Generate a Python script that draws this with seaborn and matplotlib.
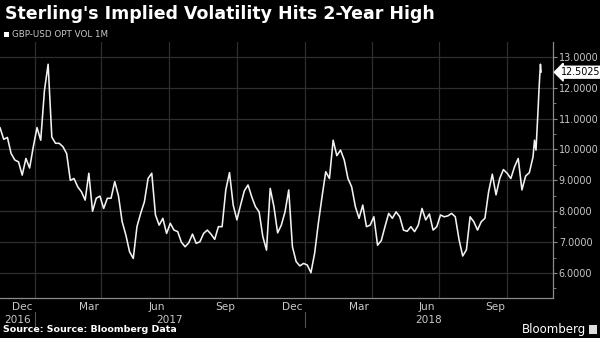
import matplotlib
matplotlib.use("Agg")
import matplotlib.pyplot as plt
import matplotlib.dates as mdates
import matplotlib.transforms as mtransforms
from matplotlib.patches import Rectangle
from matplotlib.ticker import MultipleLocator, FuncFormatter
import seaborn as sns
import pandas as pd

# ---- data -------------------------------------------------------------
series_name = "GBP-USD OPT VOL 1M"
regular_dates = pd.date_range("2016-11-15", "2018-11-05", freq="5D")
regular_vals = [
    10.71, 10.33, 10.39, 9.87, 9.66, 9.60, 9.17, 9.71, 9.40, 10.09,
    10.71, 10.30, 11.90, 12.76, 10.40, 10.20, 10.20, 10.09, 9.87, 9.00,
    9.06, 8.79, 8.63, 8.36, 9.23, 8.00, 8.42, 8.49, 8.09, 8.42,
    8.42, 8.96, 8.50, 7.66, 7.23, 6.69, 6.47, 7.50, 7.93, 8.30,
    9.06, 9.23, 7.88, 7.55, 7.77, 7.28, 7.61, 7.39, 7.34, 7.00,
    6.85, 6.98, 7.26, 6.96, 7.01, 7.28, 7.39, 7.26, 7.09, 7.50,
    7.50, 8.69, 9.25, 8.20, 7.72, 8.20, 8.66, 8.85, 8.47, 8.15,
    7.98, 7.18, 6.74, 8.74, 8.15, 7.30, 7.55, 7.98, 8.69, 6.85,
    6.37, 6.23, 6.31, 6.26, 6.01, 6.64, 7.61, 8.47, 9.28, 9.06,
    10.30, 9.80, 9.98, 9.66, 9.06, 8.79, 8.15, 7.77, 8.20, 7.50,
    7.55, 7.82, 6.90, 7.05, 7.50, 7.93, 7.77, 7.98, 7.82, 7.39,
    7.35, 7.50, 7.34, 7.55, 8.09, 7.72, 7.91, 7.39, 7.50, 7.88,
    7.82, 7.85, 7.93, 7.82, 7.09, 6.55, 6.75, 7.82, 7.66, 7.39,
    7.66, 7.77, 8.63, 9.20, 8.53, 9.06, 9.35, 9.23, 9.06, 9.44,
    9.71, 8.69, 9.14, 9.25, 9.76,
]
tail_dates = ["2018-11-07", "2018-11-09", "2018-11-12", "2018-11-13",
              "2018-11-14", "2018-11-15", "2018-11-16"]
tail_vals = [10.30, 9.98, 11.38, 11.92, 12.35, 12.76, 12.5025]
last_value = 12.5025

y_ticks = [6, 7, 8, 9, 10, 11, 12, 13]
month_labels = ["Dec", "Mar", "Jun", "Sep", "Dec", "Mar", "Jun", "Sep"]
month_label_dates = ["2016-12-15", "2017-03-15", "2017-06-15", "2017-09-15",
                     "2017-12-15", "2018-03-15", "2018-06-15", "2018-09-15"]
year_labels = ["2016", "2017", "2018"]

title = "Sterling's Implied Volatility Hits 2-Year High"
source = "Source: Source: Bloomberg Data"

df = pd.DataFrame({
    "date": list(regular_dates) + list(pd.to_datetime(tail_dates)),
    "vol": regular_vals + tail_vals,
})

# ---- style ------------------------------------------------------------
sns.set_theme(style="dark")
plt.rcParams["font.family"] = ["DejaVu Sans"]
BG = "#000000"
GRID = "#2e2e2e"
AXC = "#8a8a8a"
TXT = "#c8c8c8"

fig = plt.figure(figsize=(6.0, 3.38), dpi=100, facecolor=BG)
ax = fig.add_axes([0.0, 0.1183, 0.9217, 0.7574])
ax.set_facecolor(BG)

sns.lineplot(data=df, x="date", y="vol", ax=ax, color="#f2f2f2",
             linewidth=1.15, legend=False)

x0 = pd.Timestamp("2016-11-15")
x1 = pd.Timestamp("2018-12-02")
ax.set_xlim(x0, x1)
ax.set_ylim(5.19, 13.48)

# grid
ax.set_yticks(y_ticks)
ax.yaxis.set_minor_locator(MultipleLocator(0.5))
ax.xaxis.set_major_locator(mdates.MonthLocator())
ax.grid(False)
for yv in y_ticks:
    ax.axhline(yv, color=GRID, lw=0.9, zorder=0)
for q in pd.date_range("2017-01-01", "2018-10-01", freq="QS"):
    ax.axvline(q, color=GRID, lw=0.9, zorder=0)

# spines
for s in ["top", "left"]:
    ax.spines[s].set_visible(False)
for s in ["right", "bottom"]:
    ax.spines[s].set_visible(True)
    ax.spines[s].set_color(AXC)
    ax.spines[s].set_linewidth(0.9)

# y axis on right
ax.yaxis.tick_right()
ax.yaxis.set_major_formatter(FuncFormatter(lambda v, p: f"{v:.4f}"))
ax.tick_params(axis="y", which="major", direction="out", length=3, width=0.8,
               color=AXC, labelcolor=TXT, labelsize=6.9, pad=1.2)
ax.tick_params(axis="y", which="minor", direction="out", length=2, width=0.6,
               color=AXC)
ax.set_ylabel("")
ax.set_xlabel("")

# x axis: month tick marks, labels at mid-months
ax.tick_params(axis="x", which="major", direction="in", length=3, width=0.6,
               color=AXC, labelbottom=False)
trans = mtransforms.blended_transform_factory(ax.transData, fig.transFigure)
for lab, d in zip(month_labels, month_label_dates):
    ax.text(pd.Timestamp(d), 1 - 307 / 338, lab, transform=trans, ha="center",
            va="center", fontsize=7.6, color=TXT)
year_pos = [(x0, pd.Timestamp("2017-01-01")),
            (pd.Timestamp("2017-01-01"), pd.Timestamp("2018-01-01")),
            (pd.Timestamp("2018-01-01"), x1)]
for lab, (a, b) in zip(year_labels, year_pos):
    ax.text(a + (b - a) / 2, 1 - 320 / 338, lab, transform=trans, ha="center",
            va="center", fontsize=7.6, color=TXT)
for d in ["2017-01-01", "2018-01-01"]:
    ax.plot([pd.Timestamp(d)] * 2, [1 - 312 / 338, 1 - 327 / 338],
            transform=trans, color="#555555", lw=0.8, clip_on=False)

# last value tag
tag_trans = mtransforms.blended_transform_factory(ax.transAxes, ax.transData)
ax.text(1.0135, last_value, f"{last_value:.4f}", transform=tag_trans,
        ha="left", va="center", fontsize=6.9, color="#000000",
        bbox=dict(boxstyle="larrow,pad=0.1", fc="#ffffff", ec="#ffffff"))

# title / legend / footer
fig.text(0.008, 1 - 14 / 338, title, color="white", fontsize=12.5,
         fontweight="bold", ha="left", va="center")
fig.add_artist(Rectangle((4 / 600, 1 - 37 / 338), 5 / 600, 5 / 338,
                         transform=fig.transFigure, facecolor="white",
                         edgecolor="none"))
fig.text(12 / 600, 1 - 34.5 / 338, series_name, color=TXT, fontsize=6.3,
         ha="left", va="center")
fig.text(3 / 600, 1 - 330 / 338, source, color="white", fontsize=6.8,
         fontweight="bold", ha="left", va="center")
fig.text(586 / 600, 1 - 329 / 338, "Bloomberg", color="white", fontsize=8.5,
         ha="right", va="center")
fig.add_artist(Rectangle((589 / 600, 1 - 334 / 338), 8 / 600, 9 / 338,
                         transform=fig.transFigure, facecolor="#dddddd",
                         edgecolor="none"))

fig.savefig("out.png", dpi=100, facecolor=BG)
